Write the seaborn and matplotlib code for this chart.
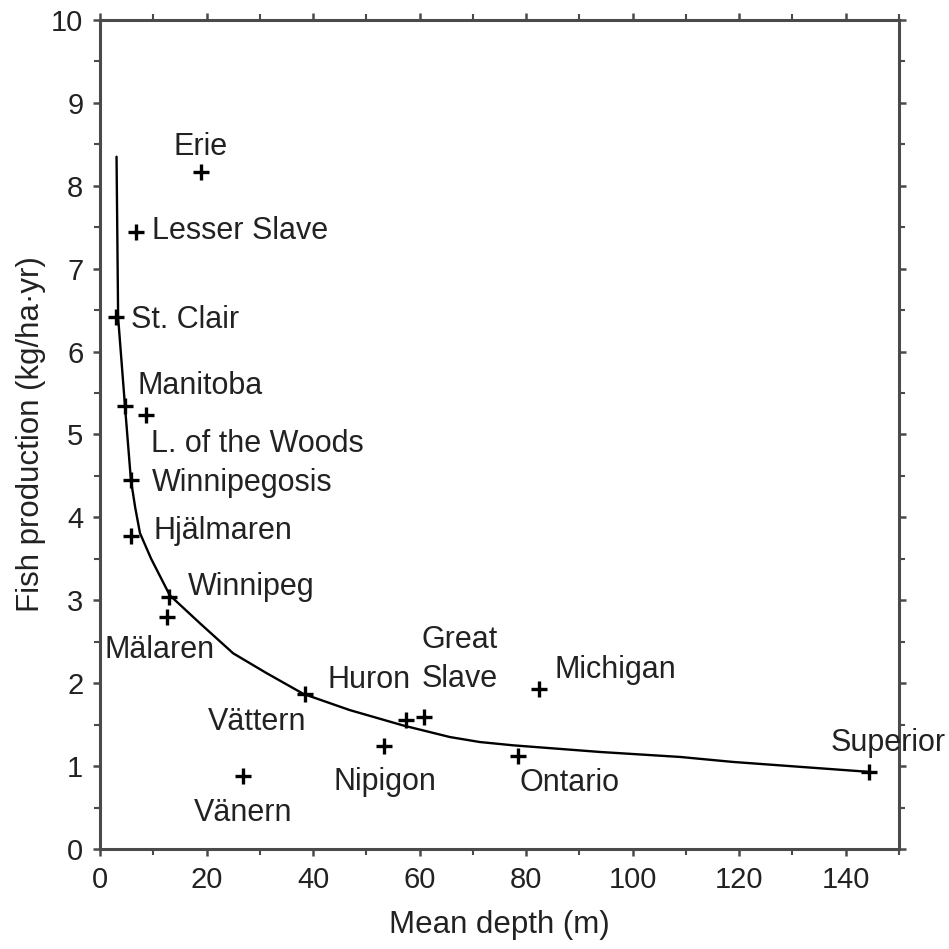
import matplotlib
matplotlib.use("Agg")
import matplotlib.pyplot as plt
import seaborn as sns
import pandas as pd
from matplotlib.ticker import MultipleLocator

lakes = ["Erie", "Lesser Slave", "St. Clair", "Manitoba", "L. of the Woods",
         "Winnipegosis", "Hjälmaren", "Winnipeg", "Mälaren", "Vättern",
         "Vänern", "Nipigon", "Huron", "Great Slave", "Ontario", "Michigan",
         "Superior"]
depth = [19.0, 6.8, 3.0, 4.7, 8.6, 5.8, 5.8, 13.0, 12.6, 38.5,
         26.8, 53.3, 57.5, 60.8, 78.5, 82.4, 144.4]
production = [8.16, 7.44, 6.42, 5.34, 5.23, 4.45, 3.77, 3.04, 2.80, 1.87,
              0.88, 1.24, 1.55, 1.59, 1.12, 1.93, 0.93]

curve_depth = [3.1, 3.4, 4.7, 5.8, 6.6, 7.5, 9.6, 13.1, 18.8, 25.0, 31.3,
               38.2, 46.9, 56.9, 65.7, 71.3, 77.6, 93.9, 108.9, 118.8, 144.4]
curve_prod = [8.35, 6.41, 5.33, 4.45, 4.12, 3.81, 3.50, 3.06, 2.72, 2.36, 2.12,
              1.87, 1.675, 1.49, 1.35, 1.29, 1.25, 1.17, 1.11, 1.05, 0.93]

# label texts, anchor positions (data coords) and horizontal alignment
label_text = ["Erie", "Lesser Slave", "St. Clair", "Manitoba", "L. of the Woods",
              "Winnipegosis", "Hjälmaren", "Winnipeg", "Mälaren", "Vättern",
              "Vänern", "Nipigon", "Huron", "Great", "Slave", "Ontario",
              "Michigan", "Superior"]
label_x = [18.8, 9.8, 5.8, 7.1, 9.6, 9.8, 10.1, 16.5, 0.9, 29.5,
           26.8, 53.5, 42.8, 67.6, 67.6, 88.1, 85.4, 147.9]
label_y = [8.47, 7.45, 6.38, 5.58, 4.88, 4.41, 3.83, 3.16, 2.40, 1.53,
           0.43, 0.81, 2.04, 2.52, 2.05, 0.79, 2.16, 1.28]
label_ha = ["center", "left", "left", "left", "left", "left", "left", "left",
            "left", "center", "center", "center", "left", "center", "center",
            "center", "left", "center"]

sns.set_theme(style="ticks")
plt.rcParams["font.family"] = ["Liberation Sans", "DejaVu Sans"]
txtc = "#222222"
axc = "#4a4a4a"

fig = plt.figure(figsize=(9.49, 9.49), dpi=100)
ax = fig.add_axes([0.1054, 0.1054, 0.8419, 0.8736])

pts = pd.DataFrame({"depth": depth, "production": production, "lake": lakes})
crv = pd.DataFrame({"depth": curve_depth, "production": curve_prod})

sns.lineplot(data=crv, x="depth", y="production", sort=False, estimator=None,
             color="black", linewidth=1.7, ax=ax)
sns.scatterplot(data=pts, x="depth", y="production", marker="+", s=120,
                color="black", linewidth=2.4, ax=ax, zorder=3)

for t, x, y, ha in zip(label_text, label_x, label_y, label_ha):
    ax.text(x, y, t, ha=ha, va="center", fontsize=22, color=txtc)

ax.set_xlim(0, 150)
ax.set_ylim(0, 10)
ax.xaxis.set_major_locator(MultipleLocator(20))
ax.xaxis.set_minor_locator(MultipleLocator(10))
ax.yaxis.set_major_locator(MultipleLocator(1))
ax.yaxis.set_minor_locator(MultipleLocator(0.5))
ax.tick_params(which="both", direction="out", top=True, right=True,
               color=axc, labelsize=21, labelcolor=txtc)
ax.tick_params(which="major", length=5, width=1.8, pad=7)
ax.tick_params(which="minor", length=4, width=1.5)
for s in ax.spines.values():
    s.set_color(axc)
    s.set_linewidth(2.2)

ax.set_xlabel("Mean depth (m)", fontsize=22.5, color=txtc, labelpad=12)
ax.set_ylabel("Fish production (kg/ha·yr)", fontsize=22.5, color=txtc, labelpad=4)

fig.savefig("out.png", dpi=100)
